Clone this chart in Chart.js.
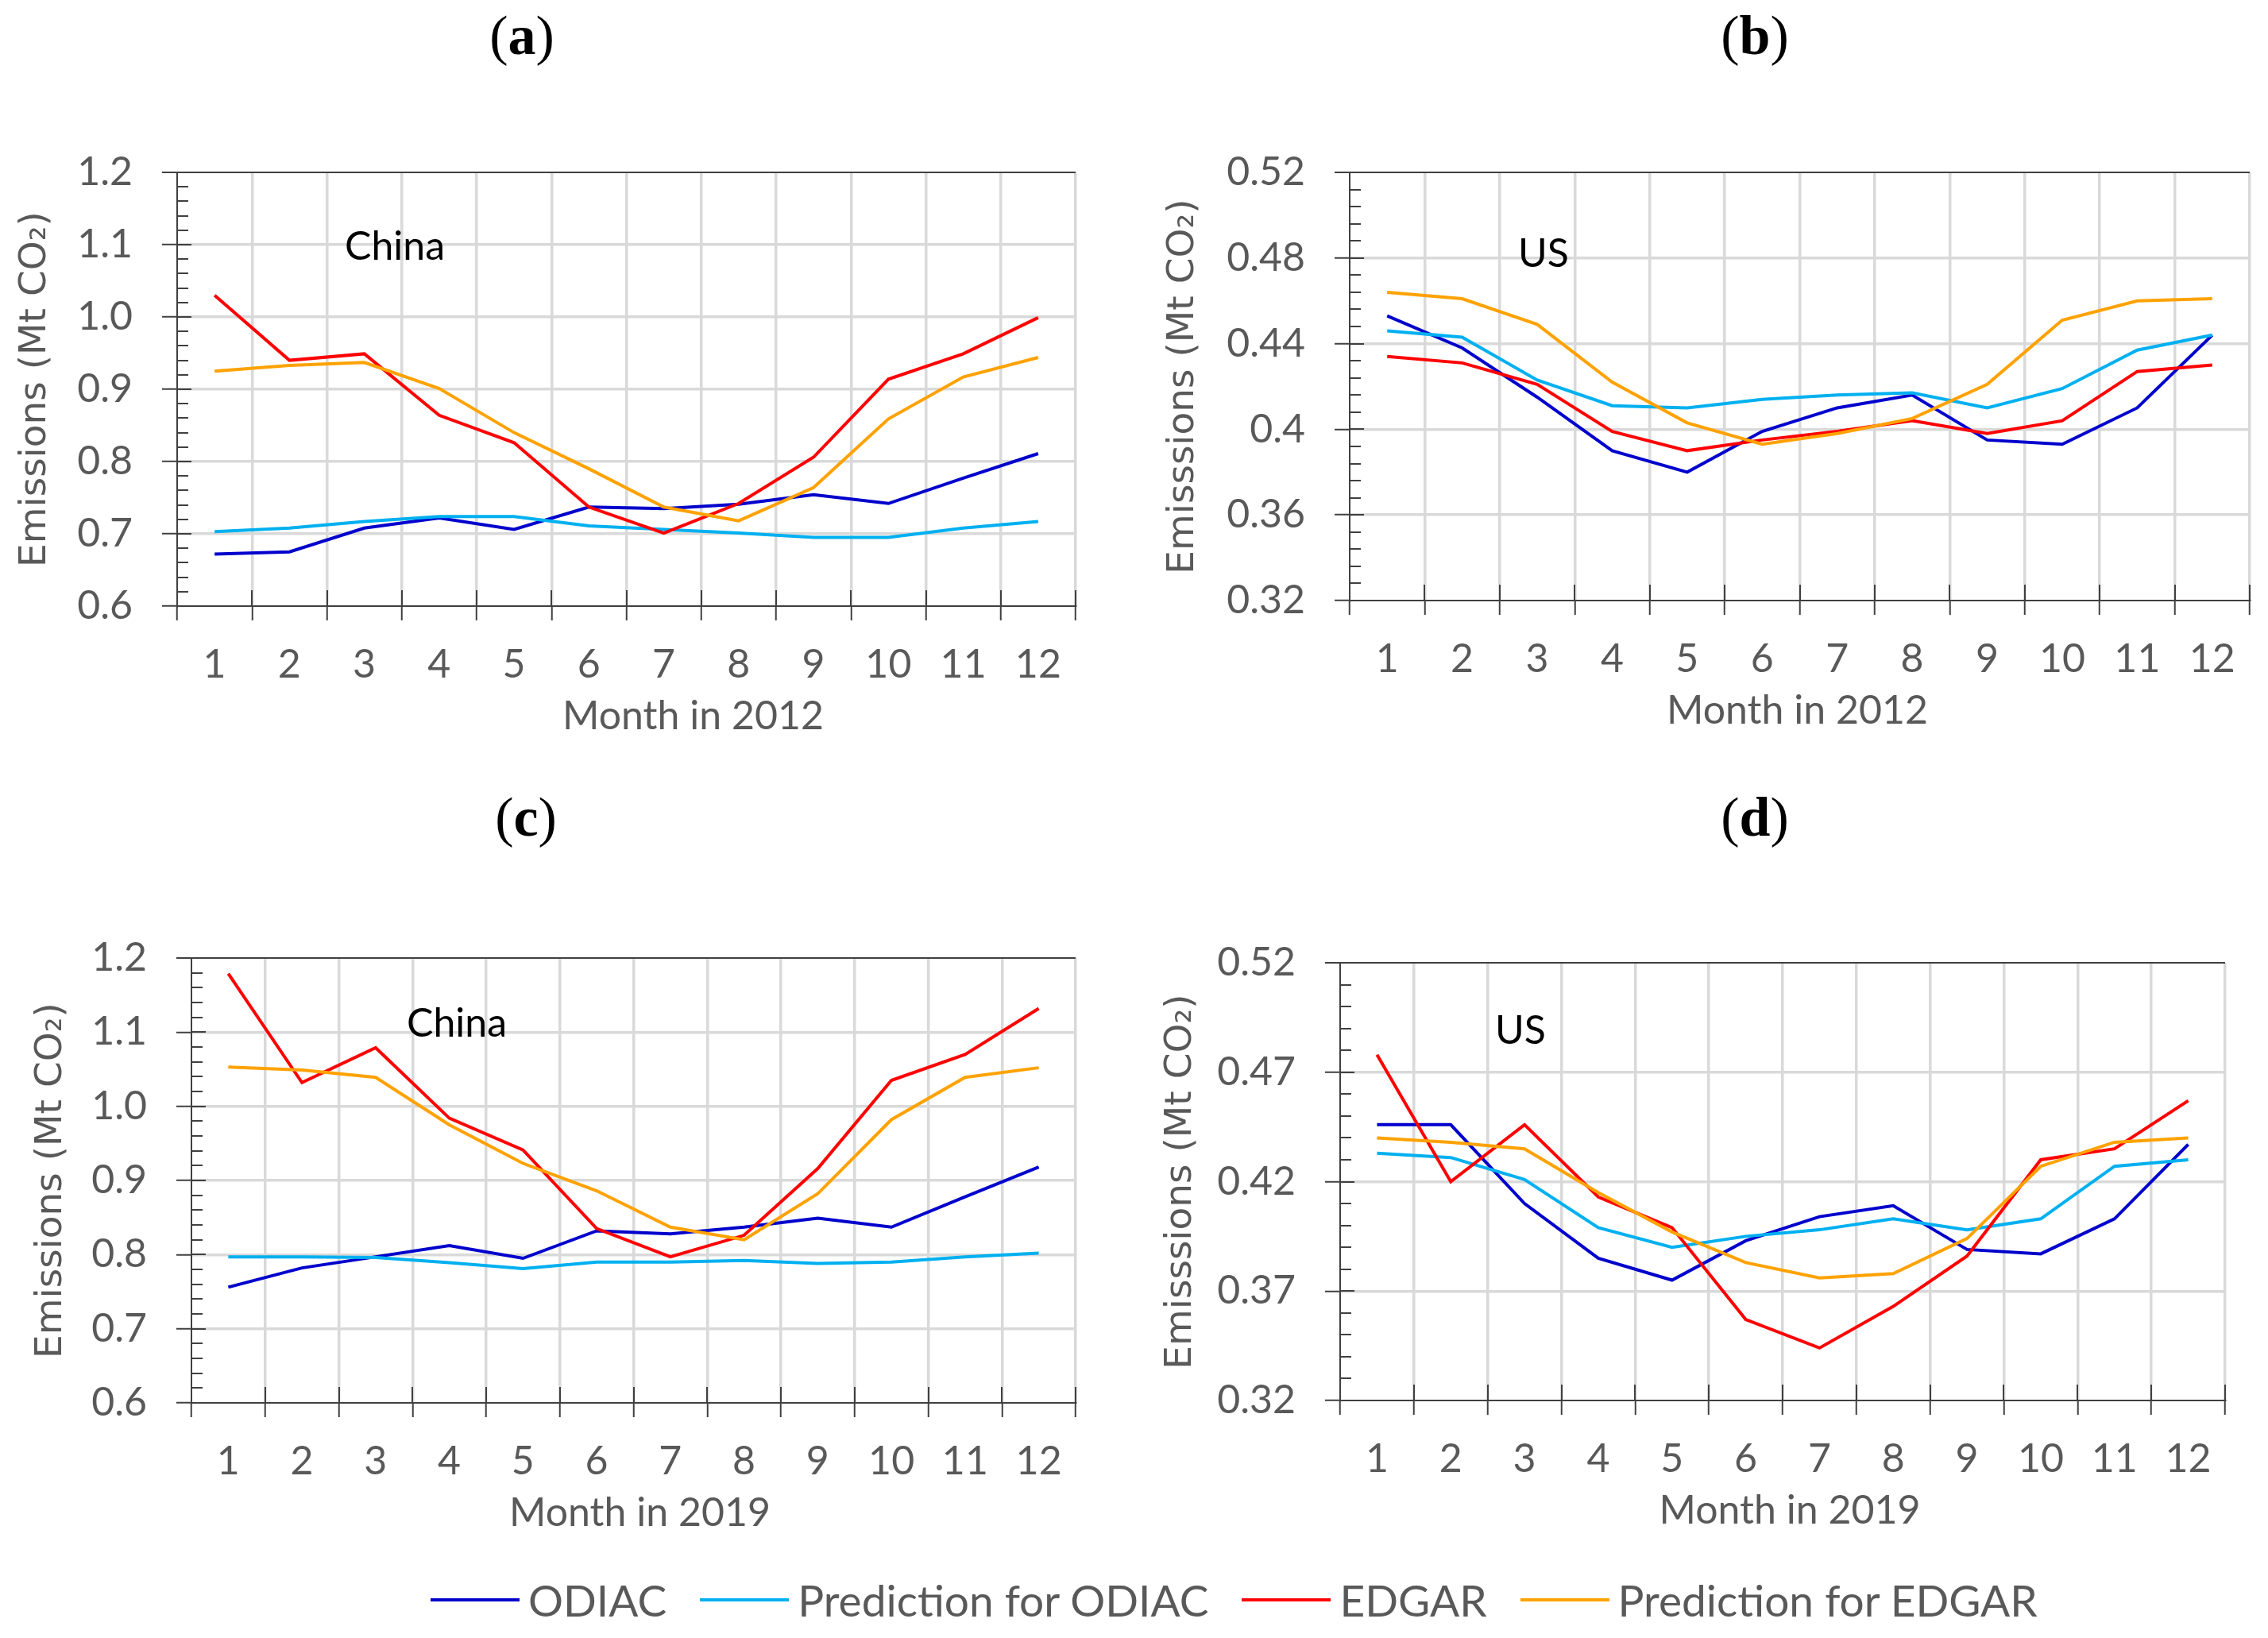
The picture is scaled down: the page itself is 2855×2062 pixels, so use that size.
<!DOCTYPE html>
<html lang="en">
<head>
<meta charset="UTF-8">
<title>Monthly emissions: ODIAC, EDGAR and predictions</title>
<script src="https://cdn.jsdelivr.net/npm/chart.js@4.4.0/dist/chart.umd.min.js"></script>
<style>
    html, body { margin: 0; padding: 0; background: #fff; }
    body { width: 2855px; height: 2062px; position: relative; overflow: hidden; }
    .panel { position: absolute; }
    .ptitle {
        position: absolute; width: 200px; margin-left: -100px; text-align: center;
        font-family: 'Liberation Serif', serif; font-size: 70px; line-height: 70px; color: #000;
    }
    #legend {
        position: absolute; left: 542px; top: 1984px; display: flex; align-items: center; gap: 42px;
        font-family: Lato, sans-serif; font-size: 55px; line-height: 60px; color: #595959; white-space: nowrap;
    }
    .item { display: flex; align-items: center; }
    .swatch { width: 112px; height: 4px; margin-right: 11px; }
</style>
</head>
<body>
    <div class="ptitle" style="left:657px; top:10px;">(<b>a</b>)</div>
    <div class="ptitle" style="left:2209px; top:10px;">(<b>b</b>)</div>
    <div class="ptitle" style="left:662px; top:994px;">(<b>c</b>)</div>
    <div class="ptitle" style="left:2209px; top:994px;">(<b>d</b>)</div>

    <div class="panel" style="left:0px; top:150px; width:1400px; height:850px;"><canvas id="chartA"></canvas></div>
    <div class="panel" style="left:1430px; top:150px; width:1425px; height:850px;"><canvas id="chartB"></canvas></div>
    <div class="panel" style="left:0px; top:1100px; width:1400px; height:850px;"><canvas id="chartC"></canvas></div>
    <div class="panel" style="left:1430px; top:1100px; width:1425px; height:850px;"><canvas id="chartD"></canvas></div>

    <div id="legend"></div>

<script>
// months on the x axis
const months = ['1', '2', '3', '4', '5', '6', '7', '8', '9', '10', '11', '12'];

const seriesNames = ['ODIAC', 'Prediction for ODIAC', 'EDGAR', 'Prediction for EDGAR'];
const seriesColors = ['#0000CC', '#00B0F0', '#FF0000', '#FFA200'];

// (a) China 2012
const odiacA      = [0.672, 0.675, 0.708, 0.722, 0.706, 0.737, 0.735, 0.741, 0.754, 0.742, 0.777, 0.811];
const predOdiacA  = [0.703, 0.708, 0.717, 0.724, 0.724, 0.711, 0.706, 0.701, 0.695, 0.695, 0.708, 0.717];
const edgarA      = [1.030, 0.940, 0.949, 0.864, 0.826, 0.737, 0.701, 0.742, 0.806, 0.914, 0.949, 0.999];
const predEdgarA  = [0.925, 0.933, 0.937, 0.901, 0.840, 0.790, 0.737, 0.718, 0.764, 0.859, 0.917, 0.944];

// (b) US 2012
const odiacB      = [0.453, 0.438, 0.415, 0.390, 0.380, 0.399, 0.410, 0.416, 0.395, 0.393, 0.410, 0.444];
const predOdiacB  = [0.446, 0.443, 0.423, 0.411, 0.410, 0.414, 0.416, 0.417, 0.410, 0.419, 0.437, 0.444];
const edgarB      = [0.434, 0.431, 0.421, 0.399, 0.390, 0.395, 0.399, 0.404, 0.398, 0.404, 0.427, 0.430];
const predEdgarB  = [0.464, 0.461, 0.449, 0.422, 0.403, 0.393, 0.398, 0.405, 0.421, 0.451, 0.460, 0.461];

// (c) China 2019
const odiacC      = [0.756, 0.782, 0.797, 0.812, 0.795, 0.832, 0.828, 0.837, 0.849, 0.837, 0.878, 0.918];
const predOdiacC  = [0.797, 0.797, 0.796, 0.789, 0.781, 0.790, 0.790, 0.792, 0.788, 0.790, 0.797, 0.802];
const edgarC      = [1.179, 1.032, 1.079, 0.984, 0.941, 0.835, 0.797, 0.826, 0.916, 1.035, 1.070, 1.132];
const predEdgarC  = [1.053, 1.049, 1.039, 0.975, 0.923, 0.886, 0.837, 0.820, 0.882, 0.982, 1.039, 1.052];

// (d) US 2019
const odiacD      = [0.446, 0.446, 0.410, 0.385, 0.375, 0.393, 0.404, 0.409, 0.389, 0.387, 0.403, 0.437];
const predOdiacD  = [0.433, 0.431, 0.421, 0.399, 0.390, 0.395, 0.398, 0.403, 0.398, 0.403, 0.427, 0.430];
const edgarD      = [0.478, 0.420, 0.446, 0.413, 0.399, 0.357, 0.344, 0.363, 0.386, 0.430, 0.435, 0.457];
const predEdgarD  = [0.440, 0.438, 0.435, 0.415, 0.397, 0.383, 0.376, 0.378, 0.394, 0.427, 0.438, 0.440];

// major tick labels, bottom to top
const yLabelsChina = ['0.6', '0.7', '0.8', '0.9', '1.0', '1.1', '1.2'];
const yLabelsUS2012 = ['0.32', '0.36', '0.4', '0.44', '0.48', '0.52'];
const yLabelsUS2019 = ['0.32', '0.37', '0.42', '0.47', '0.52'];

const axisColor = '#404040';
const gridColor = '#d9d9d9';
const textGray = '#595959';
const none = 'rgba(0,0,0,0)';

Chart.defaults.font.family = 'Lato';

// inner tick marks (Excel style), place label and x axis title
const panelDecor = {
    id: 'panelDecor',
    beforeDatasetsDraw(chart) {
        const {ctx, chartArea: area, scales: {x, y}} = chart;
        ctx.save();
        ctx.strokeStyle = axisColor;
        ctx.lineWidth = 2;
        y.ticks.forEach((t, i) => {
            const py = Math.round(y.getPixelForTick(i));
            const len = i % 5 === 0 ? 18 : 14;
            ctx.beginPath();
            ctx.moveTo(area.left, py);
            ctx.lineTo(area.left + len, py);
            ctx.stroke();
        });
        const step = x.getPixelForTick(1) - x.getPixelForTick(0);
        for (let i = 1; i <= x.ticks.length; i++) {
            const px = Math.round(x.getPixelForTick(0) + (i - 0.5) * step);
            ctx.beginPath();
            ctx.moveTo(px, area.bottom);
            ctx.lineTo(px, area.bottom - 20);
            ctx.stroke();
        }
        ctx.restore();
    },
    afterDraw(chart, args, opts) {
        const {ctx, chartArea: area} = chart;
        ctx.save();
        ctx.font = '50px Lato';
        ctx.textBaseline = 'alphabetic';
        ctx.fillStyle = '#000';
        ctx.textAlign = 'left';
        ctx.fillText(opts.place, area.left + opts.placeX, area.top + opts.placeY);
        ctx.fillStyle = textGray;
        ctx.textAlign = 'center';
        ctx.fillText(opts.xTitle, (area.left + area.right) / 2 + opts.xTitleShift, area.bottom + 155);
        ctx.restore();
    }
};

function makePanel(id, series, opt) {
    const lastY = Math.round((opt.max - opt.min) / opt.step);
    new Chart(document.getElementById(id), {
        type: 'line',
        data: {
            labels: months,
            datasets: series.map((vals, k) => ({
                label: seriesNames[k],
                data: vals,
                borderColor: seriesColors[k],
                backgroundColor: seriesColors[k],
                borderWidth: 4,
                pointRadius: 0,
                tension: 0,
                fill: false,
                order: series.length - k
            }))
        },
        options: {
            responsive: true,
            maintainAspectRatio: false,
            animation: false,
            layout: { padding: { left: 0, top: opt.padTop, right: opt.padRight, bottom: 0 } },
            plugins: {
                legend: { display: false },
                tooltip: { enabled: false },
                panelDecor: {
                    place: opt.place, placeX: opt.placeX, placeY: opt.placeY,
                    xTitle: opt.xTitle, xTitleShift: opt.xTitleShift
                }
            },
            scales: {
                x: {
                    offset: true,
                    grid: {
                        offset: true,
                        color: c => c.index === 0 ? none : (c.index === months.length ? axisColor : gridColor),
                        lineWidth: c => c.index === months.length ? 2 : 3.5,
                        tickColor: axisColor,
                        tickWidth: 2,
                        tickLength: 18
                    },
                    border: { color: axisColor, width: 2 },
                    ticks: {
                        color: textGray, font: { size: 50 }, padding: 26,
                        maxRotation: 0, autoSkip: false
                    },
                    afterFit: s => { s.height = opt.xAxisH; }
                },
                y: {
                    min: opt.min,
                    max: opt.max,
                    grid: {
                        color: c => c.index === 0 ? none : (c.index === lastY ? axisColor : (c.index % 5 === 0 ? gridColor : none)),
                        lineWidth: c => c.index === lastY ? 2 : 3.5,
                        tickColor: c => c.index % 5 === 0 ? axisColor : none,
                        tickWidth: 2,
                        tickLength: 19
                    },
                    border: { color: axisColor, width: 2 },
                    ticks: {
                        stepSize: opt.step,
                        autoSkip: false,
                        color: textGray,
                        font: { size: 50 },
                        padding: 37,
                        callback: (v, i) => i % 5 === 0 ? opt.yLabels[i / 5] : ''
                    },
                    title: {
                        display: true,
                        text: opt.yTitle,
                        color: textGray,
                        font: { family: 'DejaVu Sans', size: 47 },
                        padding: { top: opt.yTitlePad, bottom: 0 }
                    },
                    afterFit: s => { s.width = opt.yAxisW; }
                }
            }
        },
        plugins: [panelDecor]
    });
}

makePanel('chartA', [odiacA, predOdiacA, edgarA, predEdgarA], {
    min: 0.6, max: 1.2, step: 0.02, yLabels: yLabelsChina,
    yTitle: 'Emissions (Mt CO₂)', xTitle: 'Month in 2012', xTitleShift: 84,
    place: 'China', placeX: 211, placeY: 110,
    yAxisW: 223, padTop: 63, padRight: 46, xAxisH: 237, yTitlePad: 17
});
makePanel('chartB', [odiacB, predOdiacB, edgarB, predEdgarB], {
    min: 0.32, max: 0.52, step: 0.008, yLabels: yLabelsUS2012,
    yTitle: 'Emisssions (Mt CO₂)', xTitle: 'Month in 2012', xTitleShift: -3,
    place: 'US', placeX: 212, placeY: 119,
    yAxisW: 269, padTop: 63, padRight: 23, xAxisH: 244, yTitlePad: 32
});
makePanel('chartC', [odiacC, predOdiacC, edgarC, predEdgarC], {
    min: 0.6, max: 1.2, step: 0.02, yLabels: yLabelsChina,
    yTitle: 'Emissions (Mt CO₂)', xTitle: 'Month in 2019', xTitleShift: 8,
    place: 'China', placeX: 271, placeY: 99,
    yAxisW: 241, padTop: 106, padRight: 46, xAxisH: 184, yTitlePad: 37
});
makePanel('chartD', [odiacD, predOdiacD, edgarD, predEdgarD], {
    min: 0.32, max: 0.52, step: 0.01, yLabels: yLabelsUS2019,
    yTitle: 'Emisssions (Mt CO₂)', xTitle: 'Month in 2019', xTitleShift: 9,
    place: 'US', placeX: 195, placeY: 102,
    yAxisW: 257, padTop: 112, padRight: 54, xAxisH: 187, yTitlePad: 29
});

// shared legend under the four panels
const legendEl = document.getElementById('legend');
seriesNames.forEach((name, k) => {
    const item = document.createElement('div');
    item.className = 'item';
    item.innerHTML = `<span class="swatch" style="background:${seriesColors[k]}"></span><span>${name}</span>`;
    legendEl.appendChild(item);
});
</script>
</body>
</html>
